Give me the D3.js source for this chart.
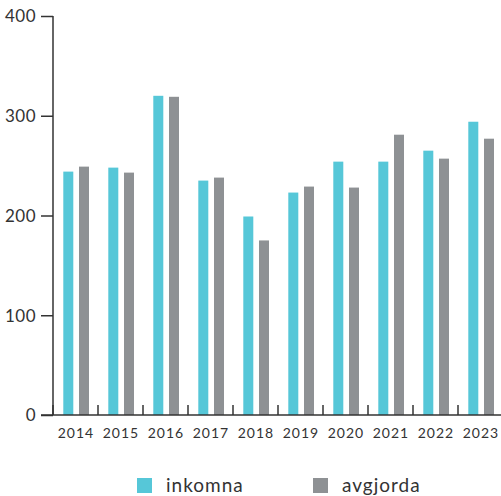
<!DOCTYPE html>
<html><head><meta charset="utf-8">
<script src="https://cdn.jsdelivr.net/npm/d3@7"></script>
<style>body{margin:0;background:#fff}svg{display:block}text{font-family:Lato,"Open Sans",sans-serif;fill:#333}</style>
</head><body>
<svg id="c" width="501" height="496"></svg>
<script>
const years = ["2014","2015","2016","2017","2018","2019","2020","2021","2022","2023"];
const inkomna = [244, 248, 320, 235, 199, 223, 254, 254, 265, 294];
const avgjorda = [249, 243, 319, 238, 175, 229, 228, 281, 257, 277];
const yTicks = [0, 100, 200, 300, 400];
const seriesNames = ["inkomna", "avgjorda"];
const colors = ["#56c7d8", "#8e9194"];

const svg = d3.select("#c");
const x = d3.scaleBand().domain(years).range([53, 503]);
const y = d3.scaleLinear().domain([0, 400]).range([415, 16]);

const g = svg.append("g");
years.forEach((yr, i) => {
  const b = x(yr);
  g.append("rect").attr("x", b + 10.3).attr("width", 10).attr("y", y(inkomna[i])).attr("height", y(0) - y(inkomna[i])).attr("fill", colors[0]);
  g.append("rect").attr("x", b + 26).attr("width", 10).attr("y", y(avgjorda[i])).attr("height", y(0) - y(avgjorda[i])).attr("fill", colors[1]);
});

// y axis
const ya = svg.append("g").attr("transform", "translate(53,0)")
  .call(d3.axisLeft(y).tickValues(yTicks).tickSize(12).tickPadding(5));
ya.select(".domain").attr("stroke", "#333").attr("stroke-width", 1.5).attr("d", `M0,${y(400)}V${y(0)}`);
ya.selectAll(".tick line").attr("stroke", "#333").attr("stroke-width", 1.5);
ya.selectAll("text").style("font-size", "17px").style("letter-spacing", "0.5px").attr("fill", "#333").attr("dy", "0.35em");

// x axis
const xa = svg.append("g").attr("transform", `translate(0,${y(0)})`);
xa.append("line").attr("x1", 41).attr("x2", 501).attr("y1", 0).attr("y2", 0).attr("stroke", "#333").attr("stroke-width", 1.5);
years.forEach(yr => {
  xa.append("line").attr("x1", x(yr)).attr("x2", x(yr)).attr("y1", 0).attr("y2", -10).attr("stroke", "#333").attr("stroke-width", 1.5);
  xa.append("text").attr("x", x(yr) + x.bandwidth() / 2 + 0.5).attr("y", 23).attr("text-anchor", "middle").style("font-size", "14px").style("letter-spacing", "1px").text(yr);
});

// legend
const legX = [137, 313];
seriesNames.forEach((n, i) => {
  svg.append("rect").attr("x", legX[i]).attr("y", 478).attr("width", 15).attr("height", 15).attr("fill", colors[i]);
  svg.append("text").attr("x", legX[i] + 29).attr("y", 492).style("font-size", "19px").style("letter-spacing", "1px").text(n);
});
</script>
</body></html>
